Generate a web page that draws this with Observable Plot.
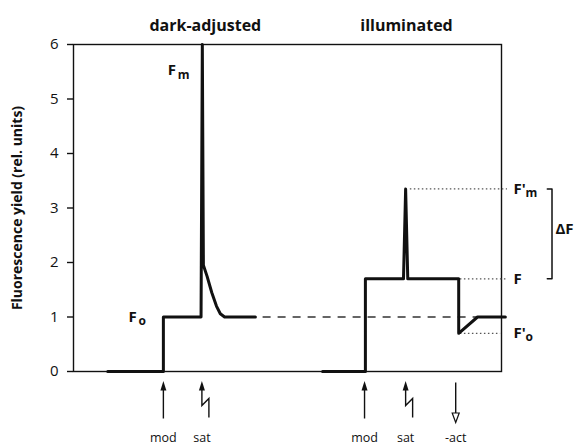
<!DOCTYPE html>
<html>
<head>
<meta charset="utf-8">
<script src="https://cdn.jsdelivr.net/npm/d3@7"></script>
<script src="https://cdn.jsdelivr.net/npm/@observablehq/plot@0.6"></script>
<style>
  body { margin: 0; background: #fff; }
</style>
</head>
<body>
<div id="chart"></div>
<script>
// Dark-adjusted trace: time (arbitrary units) and fluorescence yield (rel. units)
const darkTime  = [8, 21, 21, 29.8, 30.1, 30.35, 31.2, 32.3, 33.4, 34.3, 35.3, 42.5];
const darkYield = [0, 0, 1, 1, 6, 1.95, 1.75, 1.45, 1.2, 1.06, 1.0, 1.0];

// Illuminated trace
const illumTime  = [58.2, 68.2, 68.2, 77.1, 77.6, 78.1, 90.0, 90.0, 94.4, 100.9];
const illumYield = [0, 0, 1.7, 1.7, 3.35, 1.7, 1.7, 0.7, 1.0, 1.0];

// Dark-adjusted Fo level carried across to the illuminated state
const foLevel = 1;
const foSpan = [44.3, 94.4];

// Reference levels of the illuminated state
const levelMain   = ["F'", "F", "F'"];
const levelSub    = ["m", "", "o"];
const levelValues = [3.35, 1.7, 0.7];
const levelStart  = [78.7, 90.4, 90.4];
const levelEnd    = [101.4, 101.4, 99.8];

// Light events under the time axis
const eventNames = ["mod", "sat", "mod", "sat", "-act"];
const eventTime  = [21.0, 30.0, 68.0, 77.6, 89.3];

const panelTitles  = ["dark-adjusted", "illuminated"];
const panelCenters = [30.8, 77.8];
const yTicks = [0, 1, 2, 3, 4, 5, 6];

const dark  = darkTime.map((t, i) => ({t, y: darkYield[i]}));
const illum = illumTime.map((t, i) => ({t, y: illumYield[i]}));
const levels = levelValues.map((v, i) => ({v, main: levelMain[i], sub: levelSub[i], x1: levelStart[i], x2: levelEnd[i]}));
const events = eventNames.map((name, i) => ({name, t: eventTime[i]}));
const bracketX = [110.7, 111.8];
const bracket = [
  {t: bracketX[0], y: levelValues[0]}, {t: bracketX[1], y: levelValues[0]},
  {t: bracketX[1], y: levelValues[1]}, {t: bracketX[0], y: levelValues[1]}
];

// Arrow glyphs, drawn relative to the point where the event meets the time axis
const upHead = {draw(c) { c.moveTo(0, 9.5); c.lineTo(3, 19); c.lineTo(-3, 19); c.closePath(); }};
const straightShaft = {draw(c) { c.moveTo(0, 17); c.lineTo(0, 47); }};
const zigShaft = {draw(c) { c.moveTo(0, 17); c.lineTo(0, 34); c.lineTo(7, 27); c.lineTo(7, 46); }};
const downShaft = {draw(c) { c.moveTo(0, 11); c.lineTo(0, 42); }};
const downHead = {draw(c) { c.moveTo(0, 51); c.lineTo(3.5, 41.5); c.lineTo(-3.5, 41.5); c.closePath(); }};

const font = "'Open Sans', 'Noto Sans', sans-serif";
const ink = "#111";

const chart = Plot.plot({
  width: 580,
  height: 444,
  marginLeft: 73,
  marginRight: 79,
  marginTop: 44,
  marginBottom: 73,
  style: {fontFamily: font, background: "#fff", color: ink},
  x: {domain: [0, 100], axis: null},
  y: {domain: [0, 6], axis: null},
  marks: [
    Plot.frame({stroke: ink, strokeWidth: 1.4}),
    Plot.axisY(yTicks, {tickSize: 6, tickPadding: 9, fontSize: 15, tickFormat: d3.format("d"), label: null, strokeWidth: 1.4, stroke: ink}),
    Plot.text(["Fluorescence yield (rel. units)"], {frameAnchor: "left", textAnchor: "middle", rotate: -90, dx: -56, fontSize: 14, fontWeight: "bold", fill: ink}),
    Plot.text(panelTitles, {x: (d, i) => panelCenters[i], y: 6, dy: -19, fontSize: 16, fontWeight: "bold", fill: ink}),

    // Fo level carried over
    Plot.ruleY([foLevel], {x1: foSpan[0], x2: foSpan[1], stroke: "#333", strokeWidth: 1.5, strokeDasharray: "8,7"}),
    // illuminated reference levels
    Plot.ruleY(levels, {y: "v", x1: "x1", x2: "x2", stroke: "#555", strokeWidth: 1.2, strokeDasharray: "1.5,2.5"}),

    // fluorescence traces
    Plot.line(dark, {x: "t", y: "y", stroke: ink, strokeWidth: 3}),
    Plot.line(illum, {x: "t", y: "y", stroke: ink, strokeWidth: 3}),

    // trace labels
    Plot.text(["F"], {x: 22.0, y: d3.max(darkYield), dy: 26, textAnchor: "start", fontSize: 15, fontWeight: "bold", fill: ink}),
    Plot.text(["m"], {x: 22.0, y: d3.max(darkYield), dy: 31, dx: 10, textAnchor: "start", fontSize: 12, fontWeight: "bold", fill: ink}),
    Plot.text(["F"], {x: 12.85, y: foLevel, textAnchor: "start", fontSize: 15, fontWeight: "bold", fill: ink}),
    Plot.text(["o"], {x: 12.85, y: foLevel, dy: 4, dx: 10, textAnchor: "start", fontSize: 12, fontWeight: "bold", fill: ink}),
    Plot.text(levels, {x: 102.8, y: "v", text: "main", textAnchor: "start", fontSize: 15, fontWeight: "bold", fill: ink}),
    Plot.text(levels, {x: 102.8, y: "v", text: "sub", dx: 12, dy: 4, textAnchor: "start", fontSize: 12, fontWeight: "bold", fill: ink}),

    // ΔF bracket
    Plot.line(bracket, {x: "t", y: "y", stroke: ink, strokeWidth: 1.5}),
    Plot.text(["ΔF"], {x: 112.6, y: (levelValues[0] + levelValues[1]) / 2, dy: -5, textAnchor: "start", fontSize: 15, fontWeight: "bold", fill: ink}),

    // event arrows
    Plot.dot(events, {filter: d => d.name !== "-act", x: "t", y: 0, symbol: upHead, fill: ink, stroke: "none"}),
    Plot.dot(events, {filter: d => d.name === "mod", x: "t", y: 0, symbol: straightShaft, fill: "none", stroke: ink, strokeWidth: 1.4}),
    Plot.dot(events, {filter: d => d.name === "sat", x: "t", y: 0, symbol: zigShaft, fill: "none", stroke: ink, strokeWidth: 1.4}),
    Plot.dot(events, {filter: d => d.name === "-act", x: "t", y: 0, symbol: downShaft, fill: "none", stroke: ink, strokeWidth: 1.4}),
    Plot.dot(events, {filter: d => d.name === "-act", x: "t", y: 0, symbol: downHead, fill: "#fff", stroke: ink, strokeWidth: 1.2}),
    Plot.text(events, {x: "t", y: 0, dy: 66, text: "name", fontSize: 12.5, fill: ink})
  ]
});

document.getElementById("chart").appendChild(chart);
</script>
</body>
</html>
